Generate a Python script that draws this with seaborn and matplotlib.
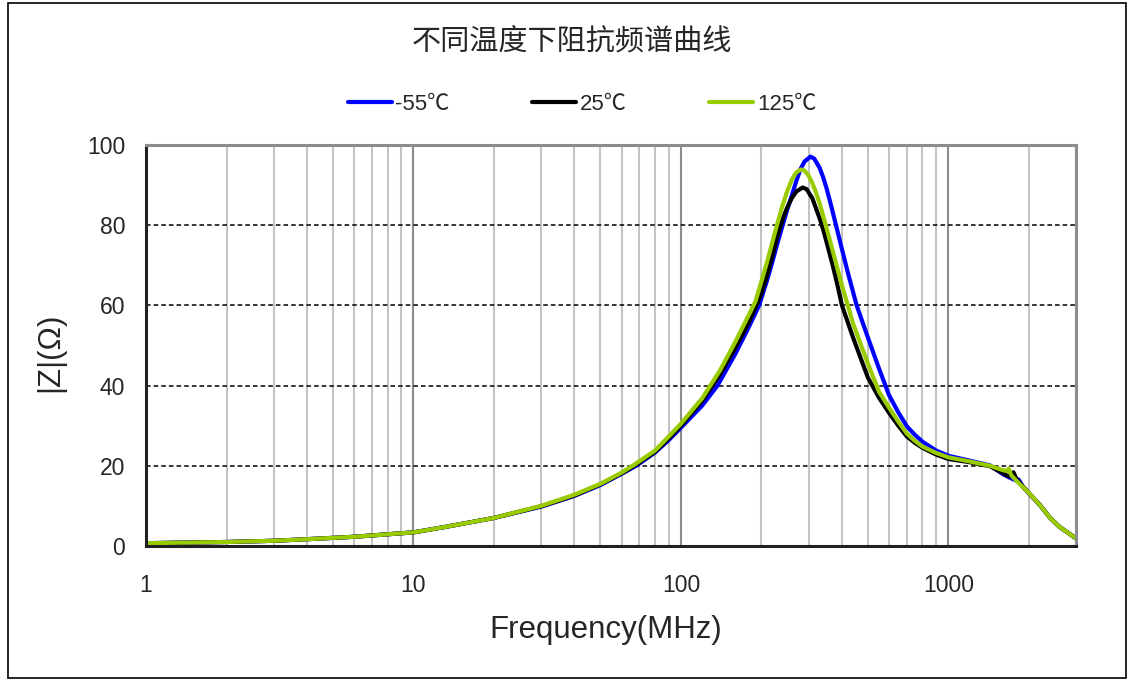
import numpy as np
import pandas as pd
import matplotlib
matplotlib.use("Agg")
import matplotlib.pyplot as plt
import seaborn as sns
from matplotlib.patches import Rectangle
from matplotlib.ticker import LogLocator, NullFormatter

title = "不同温度下阻抗频谱曲线"
x_label = "Frequency(MHz)"
y_label = "|Z|(Ω)"
series_names = ["-55℃", "25℃", "125℃"]
series_colors = ["#0000FF", "#000000", "#99CC00"]

# -55 ℃
freq_m55 = [1, 2, 3, 4, 6, 10, 13, 20, 30, 40, 50, 60, 68, 80, 90, 100, 120, 137, 160, 180, 196, 210,
            220, 230, 240, 250, 260, 270, 280, 290, 305, 315, 330, 340, 350, 365, 380, 400, 420, 454,
            500, 550, 600, 650, 700, 750, 800, 900, 1000, 1200, 1430, 1600, 1700, 1780, 1830, 1900,
            2000, 2200, 2400, 2600, 2800, 3000]
z_m55 = [0.7, 1.0, 1.3, 1.7, 2.3, 3.4, 4.7, 7.0, 9.8, 12.5, 15.2, 18.0, 20.0, 23.3, 26.4, 29.5, 35.0,
         40.0, 48.0, 54.8, 60.0, 66.3, 71.0, 75.7, 80.0, 84.0, 87.5, 91.0, 94.0, 95.9, 97.1, 96.6,
         94.3, 92.0, 89.3, 84.7, 80.0, 74.0, 68.4, 60.0, 52.0, 44.3, 37.6, 33.3, 29.8, 27.7, 26.0,
         23.8, 22.5, 21.3, 20.1, 17.9, 17.0, 16.4, 16.6, 14.8, 13.1, 10.2, 7.0, 4.8, 3.3, 1.9]

# 25 ℃
freq_25 = [1, 2, 3, 4, 6, 10, 13, 20, 30, 40, 50, 60, 67, 80, 90, 100, 120, 140, 160, 180, 190, 200,
           210, 220, 230, 240, 250, 260, 270, 285, 295, 310, 330, 340, 355, 370, 385, 400, 440, 500,
           550, 600, 650, 700, 750, 800, 900, 1000, 1200, 1430, 1600, 1650, 1700, 1750, 1800, 1900,
           2000, 2200, 2400, 2600, 2800, 3000]
z_25 = [0.7, 1.0, 1.3, 1.7, 2.3, 3.4, 4.7, 7.0, 9.9, 12.6, 15.4, 18.1, 20.0, 23.5, 26.8, 30.0, 36.2,
        42.8, 49.5, 56.0, 59.5, 63.0, 67.5, 72.5, 77.5, 81.5, 84.5, 86.8, 88.4, 89.4, 89.0, 86.7,
        81.7, 79.0, 74.4, 69.8, 65.0, 60.0, 52.0, 42.0, 37.0, 33.2, 30.0, 27.3, 25.7, 24.5, 22.8,
        21.7, 20.9, 19.9, 18.2, 17.6, 17.4, 18.4, 16.6, 14.8, 13.2, 10.2, 7.0, 4.8, 3.3, 1.9]

# 125 ℃
freq_125 = [1, 2, 3, 4, 6, 10, 13, 20, 30, 40, 50, 60, 67, 80, 90, 100, 120, 140, 160, 180, 190, 200,
            210, 220, 230, 240, 250, 260, 270, 282, 290, 300, 310, 320, 330, 340, 355, 370, 400, 440,
            500, 550, 600, 650, 700, 750, 800, 900, 1000, 1200, 1430, 1600, 1650, 1680, 1720, 1800,
            1900, 2000, 2200, 2400, 2600, 2800, 3000]
z_125 = [0.7, 1.0, 1.3, 1.7, 2.3, 3.4, 4.7, 7.0, 10.0, 12.8, 15.5, 18.3, 20.3, 23.8, 27.3, 30.5, 36.8,
         43.8, 51.0, 57.8, 61.0, 66.0, 70.9, 75.9, 80.7, 85.0, 88.6, 91.4, 93.2, 93.9, 93.6, 92.4,
         90.5, 88.1, 85.4, 82.4, 77.9, 73.4, 65.0, 55.5, 45.5, 38.5, 34.5, 31.0, 28.0, 26.2, 24.8,
         23.2, 22.1, 21.1, 20.0, 18.9, 18.7, 19.3, 17.6, 16.2, 14.7, 13.2, 10.2, 7.0, 4.8, 3.3, 1.9]

x_ticks = [1, 10, 100, 1000]
x_tick_labels = ["1", "10", "100", "1000"]
y_ticks = [0, 20, 40, 60, 80, 100]

df = pd.concat([
    pd.DataFrame({"freq": freq_m55, "z": z_m55, "series": series_names[0]}),
    pd.DataFrame({"freq": freq_25, "z": z_25, "series": series_names[1]}),
    pd.DataFrame({"freq": freq_125, "z": z_125, "series": series_names[2]}),
], ignore_index=True)

sns.set_style("white")
plt.rcParams["font.family"] = ["Liberation Sans", "Noto Sans CJK SC", "DejaVu Sans"]

W, H = 1130, 680
fig = plt.figure(figsize=(W / 100, H / 100), dpi=100)
ax = fig.add_axes([146 / W, 1 - 546 / H, 930 / W, 401 / H])

sns.lineplot(data=df, x="freq", y="z", hue="series", hue_order=series_names,
             palette=dict(zip(series_names, series_colors)), estimator=None, sort=True,
             linewidth=3.0, ax=ax, legend=False)
for ln in ax.get_lines():
    ln.set_solid_joinstyle("round")
    ln.set_solid_capstyle("round")

ax.set_xscale("log")
ax.set_xlim(1, 3000)
ax.set_ylim(0, 100)
ax.set_xticks(x_ticks)
ax.set_xticklabels(x_tick_labels)
ax.xaxis.set_minor_locator(LogLocator(base=10, subs=np.arange(2, 10), numticks=20))
ax.xaxis.set_minor_formatter(NullFormatter())
ax.set_yticks(y_ticks)

ax.set_axisbelow(True)
ax.grid(which="minor", axis="x", color="#c4c4c4", lw=1.5, ls="-")
ax.grid(which="major", axis="x", color="#8c8c8c", lw=1.5, ls="-")
ax.grid(which="major", axis="y", color="black", lw=1.1, ls=(0, (3, 2)))

ax.tick_params(axis="x", which="major", direction="in", length=6, width=1.5, color="black",
               labelsize=16.5, pad=20)
ax.tick_params(axis="x", which="minor", length=0)
ax.tick_params(axis="y", length=0, labelsize=16.5, pad=15)

for side in ["left", "bottom"]:
    ax.spines[side].set_color("#202020")
    ax.spines[side].set_linewidth(2.2)
for side in ["top", "right"]:
    ax.spines[side].set_color("#8c8c8c")
    ax.spines[side].set_linewidth(2.2)
    ax.spines[side].set_visible(True)

ax.set_xlabel(x_label, fontsize=22.5)
ax.set_ylabel(y_label, fontsize=22.5)
ax.xaxis.set_label_coords((606 - 146) / 930, (546 - 630) / 401)
ax.xaxis.label.set_va("center")
ax.yaxis.set_label_coords((50 - 146) / 930, (546 - 352) / 401)
ax.yaxis.label.set_va("center")

fig.text(572 / W, 1 - 42 / H, title, ha="center", va="center", fontsize=21,
         family=["Noto Sans CJK SC", "DejaVu Sans"])

handles = ax.get_lines()[:3]
fig.legend(handles, series_names, loc="center", bbox_to_anchor=(582 / W, 1 - 104 / H), ncol=3,
           frameon=False, fontsize=16, handlelength=2.0, handletextpad=0.15, columnspacing=3.7)

fig.add_artist(Rectangle((8 / W, 2 / H), (1126 - 8) / W, (677 - 2) / H, transform=fig.transFigure,
                         fill=False, edgecolor="black", linewidth=1.2))

fig.savefig("out.png", dpi=100)
